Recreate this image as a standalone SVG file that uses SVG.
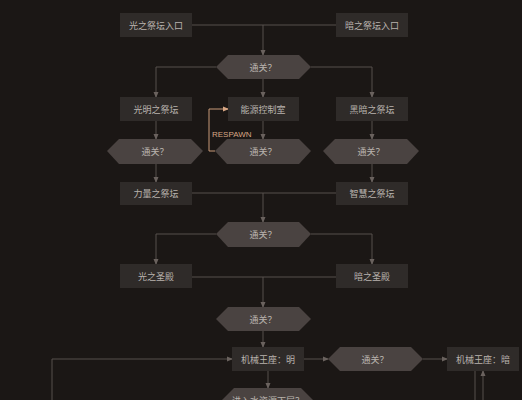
<svg xmlns="http://www.w3.org/2000/svg" width="522" height="400" viewBox="0 0 522 400">
<defs>
<style>
.bg{fill:#1b1715}
.box rect{fill:#2f2b29}
.hex polygon{fill:#4a4341}
text{font-family:"Noto Sans CJK SC","Noto Sans",sans-serif;font-size:9px;fill:#b9b3ae;text-anchor:middle;dominant-baseline:central}
.ln{fill:none;stroke:#57504d;stroke-width:1}
.rs{fill:none;stroke:#c99a78;stroke-width:1}
.rt{font-family:"Liberation Sans",sans-serif;font-size:8px;fill:#d8a684;text-anchor:start}
</style>
<marker id="a" viewBox="0 0 6 6" refX="5" refY="3" markerWidth="6" markerHeight="6" orient="auto" markerUnits="userSpaceOnUse"><path d="M0,0.5 L6,3 L0,5.5z" fill="#6a625e"/></marker>
<marker id="ao" viewBox="0 0 6 6" refX="5" refY="3" markerWidth="6" markerHeight="6" orient="auto" markerUnits="userSpaceOnUse"><path d="M0,0.5 L6,3 L0,5.5z" fill="#d8a684"/></marker>
</defs>
<rect class="bg" x="0" y="0" width="522" height="400"/>
<g id="connectors">
<path class="ln" d="M192,25 H336"/>
<path class="ln" d="M263,25 V55" marker-end="url(#a)"/>
<path class="ln" d="M216,67 H156 V97" marker-end="url(#a)"/>
<path class="ln" d="M311,67 H372 V97" marker-end="url(#a)"/>
<path class="ln" d="M263,79 V97" marker-end="url(#a)"/>
<path class="ln" d="M156,121 V139" marker-end="url(#a)"/>
<path class="ln" d="M263,121 V139" marker-end="url(#a)"/>
<path class="ln" d="M372,121 V139" marker-end="url(#a)"/>
<path class="rs" d="M215,151 H209 V109 H228" marker-end="url(#ao)"/>
<path class="ln" d="M156,164 V182" marker-end="url(#a)"/>
<path class="ln" d="M372,164 V182" marker-end="url(#a)"/>
<path class="ln" d="M192,193 H336"/>
<path class="ln" d="M263,193 V222" marker-end="url(#a)"/>
<path class="ln" d="M216,234 H156 V264" marker-end="url(#a)"/>
<path class="ln" d="M311,234 H372 V264" marker-end="url(#a)"/>
<path class="ln" d="M192,277 H336"/>
<path class="ln" d="M263,277 V307" marker-end="url(#a)"/>
<path class="ln" d="M263,331 V347" marker-end="url(#a)"/>
<path class="ln" d="M304,359 H328" marker-end="url(#a)"/>
<path class="ln" d="M423,359 H447" marker-end="url(#a)"/>
<path class="ln" d="M52,400 V359 H232" marker-end="url(#a)"/>
<path class="ln" d="M268,371 V388" marker-end="url(#a)"/>
<path class="ln" d="M475,371 V400"/>
<path class="ln" d="M483,400 V371" marker-end="url(#a)"/>
</g>
<text class="rt" x="212" y="134">RESPAWN</text>
<g id="n1" class="box"><rect x="120" y="13" width="72" height="24"/><text x="156" y="25">光之祭坛入口</text></g>
<g id="n2" class="box"><rect x="336" y="13" width="72" height="24"/><text x="372" y="25">暗之祭坛入口</text></g>
<g id="d1" class="hex"><polygon points="216,67 228,55 299,55 311,67 299,79 228,79"/><text x="263" y="67">通关？</text></g>
<g id="n3" class="box"><rect x="120" y="97" width="72" height="24"/><text x="156" y="109">光明之祭坛</text></g>
<g id="n4" class="box"><rect x="228" y="97" width="71" height="24"/><text x="263" y="109">能源控制室</text></g>
<g id="n5" class="box"><rect x="336" y="97" width="72" height="24"/><text x="372" y="109">黑暗之祭坛</text></g>
<g id="d2" class="hex"><polygon points="107,151 119,139 191,139 203,151 191,164 119,164"/><text x="155" y="151">通关？</text></g>
<g id="d3" class="hex"><polygon points="215,151 227,139 299,139 311,151 299,164 227,164"/><text x="263" y="151">通关？</text></g>
<g id="d4" class="hex"><polygon points="323,151 335,139 407,139 419,151 407,164 335,164"/><text x="371" y="151">通关？</text></g>
<g id="n6" class="box"><rect x="120" y="182" width="72" height="23"/><text x="156" y="193">力量之祭坛</text></g>
<g id="n7" class="box"><rect x="336" y="182" width="72" height="23"/><text x="372" y="193">智慧之祭坛</text></g>
<g id="d5" class="hex"><polygon points="216,234 228,222 299,222 311,234 299,247 228,247"/><text x="263" y="234">通关？</text></g>
<g id="n8" class="box"><rect x="120" y="264" width="72" height="24"/><text x="156" y="276">光之圣殿</text></g>
<g id="n9" class="box"><rect x="336" y="264" width="72" height="24"/><text x="372" y="276">暗之圣殿</text></g>
<g id="d6" class="hex"><polygon points="216,319 228,307 299,307 311,319 299,331 228,331"/><text x="263" y="319">通关？</text></g>
<g id="n10" class="box"><rect x="232" y="347" width="72" height="24"/><text x="268" y="359">机械王座：明</text></g>
<g id="d7" class="hex"><polygon points="328,359 340,347 411,347 423,359 411,371 340,371"/><text x="375" y="359">通关？</text></g>
<g id="n11" class="box"><rect x="447" y="347" width="72" height="24"/><text x="483" y="359">机械王座：暗</text></g>
<g id="d8" class="hex"><polygon points="222,400 234,388 301,388 313,400 301,412 234,412"/><text x="268" y="400">进入水资源下层？</text></g>
</svg>
